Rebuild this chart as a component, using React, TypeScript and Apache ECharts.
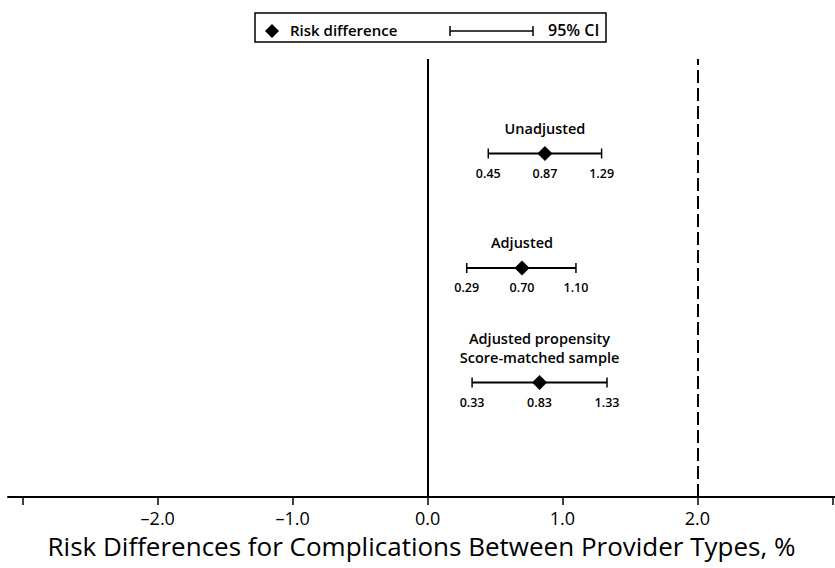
import React, { useEffect, useRef } from "react";
import * as echarts from "echarts";

const rowLabels: string[][] = [["Unadjusted"], ["Adjusted"], ["Adjusted propensity", "Score-matched sample"]];
const estimates = [0.87, 0.7, 0.83];
const lowerCI = [0.45, 0.29, 0.33];
const upperCI = [1.29, 1.1, 1.33];
const rowPositions = [3, 2, 1];
const tickValues = [-3, -2, -1, 0, 1, 2, 3];
const labelValues = [-2, -1, 0, 1, 2];
const axisTitle = "Risk Differences for Complications Between Provider Types, %";
const legendPoint = "Risk difference";
const legendCI = "95% CI";

const FONT = "'Open Sans', 'Noto Sans', sans-serif";

export default function App() {
  const ref = useRef<HTMLDivElement>(null);
  useEffect(() => {
    if (!ref.current) return;
    const chart = echarts.init(ref.current, undefined, { renderer: "svg" });
    const data = estimates.map((e, i) => [lowerCI[i], e, upperCI[i], rowPositions[i], i]);
    const fmt = (v: number) => v.toFixed(2);
    chart.setOption({
      animation: false,
      backgroundColor: "#fff",
      grid: { left: 8, right: 0, top: 59, bottom: 71, outerBoundsMode: "none", containLabel: false },
      xAxis: {
        type: "value",
        min: -3.11,
        max: 3.02,
        splitLine: { show: false },
        axisLine: { show: true, lineStyle: { color: "#000", width: 2 } },
        axisTick: { show: true, customValues: tickValues, length: 8, lineStyle: { color: "#000", width: 1.5 } },
        axisLabel: {
          customValues: labelValues,
          formatter: (v: number) => (v < 0 ? "\u2013" + Math.abs(v).toFixed(1) : v.toFixed(1)),
          color: "#000",
          fontSize: 18,
          fontFamily: FONT,
          margin: 12,
          lineHeight: 18,
        },
        name: axisTitle,
        nameLocation: "middle",
        nameGap: 36,
        nameTextStyle: { color: "#000", fontSize: 26, fontFamily: FONT, lineHeight: 26 },
      },
      yAxis: { type: "value", min: 0, max: 3.825, show: false },
      graphic: [
        { type: "rect", shape: { x: 255, y: 13, width: 351, height: 29 }, style: { fill: "#fff", stroke: "#000", lineWidth: 1.5 } },
        { type: "polygon", shape: { points: [[272, 24], [279, 31], [272, 38], [265, 31]] }, style: { fill: "#000" } },
        { type: "text", x: 290, y: 30, style: { text: legendPoint, fontSize: 15, fontWeight: 600, fontFamily: FONT, fill: "#000", verticalAlign: "middle" } },
        { type: "line", shape: { x1: 450, y1: 31, x2: 533, y2: 31 }, style: { stroke: "#000", lineWidth: 1.5 } },
        { type: "line", shape: { x1: 450, y1: 26, x2: 450, y2: 36 }, style: { stroke: "#000", lineWidth: 1.5 } },
        { type: "line", shape: { x1: 533, y1: 26, x2: 533, y2: 36 }, style: { stroke: "#000", lineWidth: 1.5 } },
        { type: "text", x: 548, y: 30, style: { text: legendCI, fontSize: 16, fontWeight: 600, fontFamily: FONT, fill: "#000", verticalAlign: "middle" } },
      ],
      series: [
        {
          type: "custom",
          data,
          renderItem: (params: any, api: any) => {
            const lo = api.coord([api.value(0), api.value(3)]);
            const es = api.coord([api.value(1), api.value(3)]);
            const hi = api.coord([api.value(2), api.value(3)]);
            const idx = api.value(4);
            const y = es[1];
            const ts = { fontFamily: FONT, fontWeight: 600, fill: "#000", align: "center", verticalAlign: "middle" };
            const children: any[] = [
              { type: "line", shape: { x1: lo[0], y1: y, x2: hi[0], y2: y }, style: { stroke: "#000", lineWidth: 2 } },
              { type: "line", shape: { x1: lo[0], y1: y - 5, x2: lo[0], y2: y + 5 }, style: { stroke: "#000", lineWidth: 1.5 } },
              { type: "line", shape: { x1: hi[0], y1: y - 5, x2: hi[0], y2: y + 5 }, style: { stroke: "#000", lineWidth: 1.5 } },
              { type: "polygon", shape: { points: [[es[0], y - 7.5], [es[0] + 7.5, y], [es[0], y + 7.5], [es[0] - 7.5, y]] }, style: { fill: "#000" } },
              { type: "text", x: lo[0], y: y + 20, style: { ...ts, fontSize: 12.5, text: fmt(api.value(0)) } },
              { type: "text", x: es[0], y: y + 20, style: { ...ts, fontSize: 12.5, text: fmt(api.value(1)) } },
              { type: "text", x: hi[0], y: y + 20, style: { ...ts, fontSize: 12.5, text: fmt(api.value(2)) } },
            ];
            const lines = rowLabels[idx];
            lines.forEach((t, j) => {
              children.push({ type: "text", x: es[0], y: y - 25 - (lines.length - 1 - j) * 19, style: { ...ts, fontSize: 14.5, text: t } });
            });
            return { type: "group", children };
          },
          z: 3,
        },
        {
          type: "line",
          data: [],
          markLine: {
            silent: true,
            symbol: "none",
            label: { show: false },
            data: [
              { xAxis: 0, lineStyle: { color: "#000", width: 2, type: "solid" } },
              { xAxis: 2, lineStyle: { color: "#000", width: 2, type: [13, 5] } },
            ],
          },
        },
      ],
    });
    return () => chart.dispose();
  }, []);
  return <div ref={ref} style={{ position: "fixed", left: 0, top: 0, width: 835, height: 568 }} />;
}
